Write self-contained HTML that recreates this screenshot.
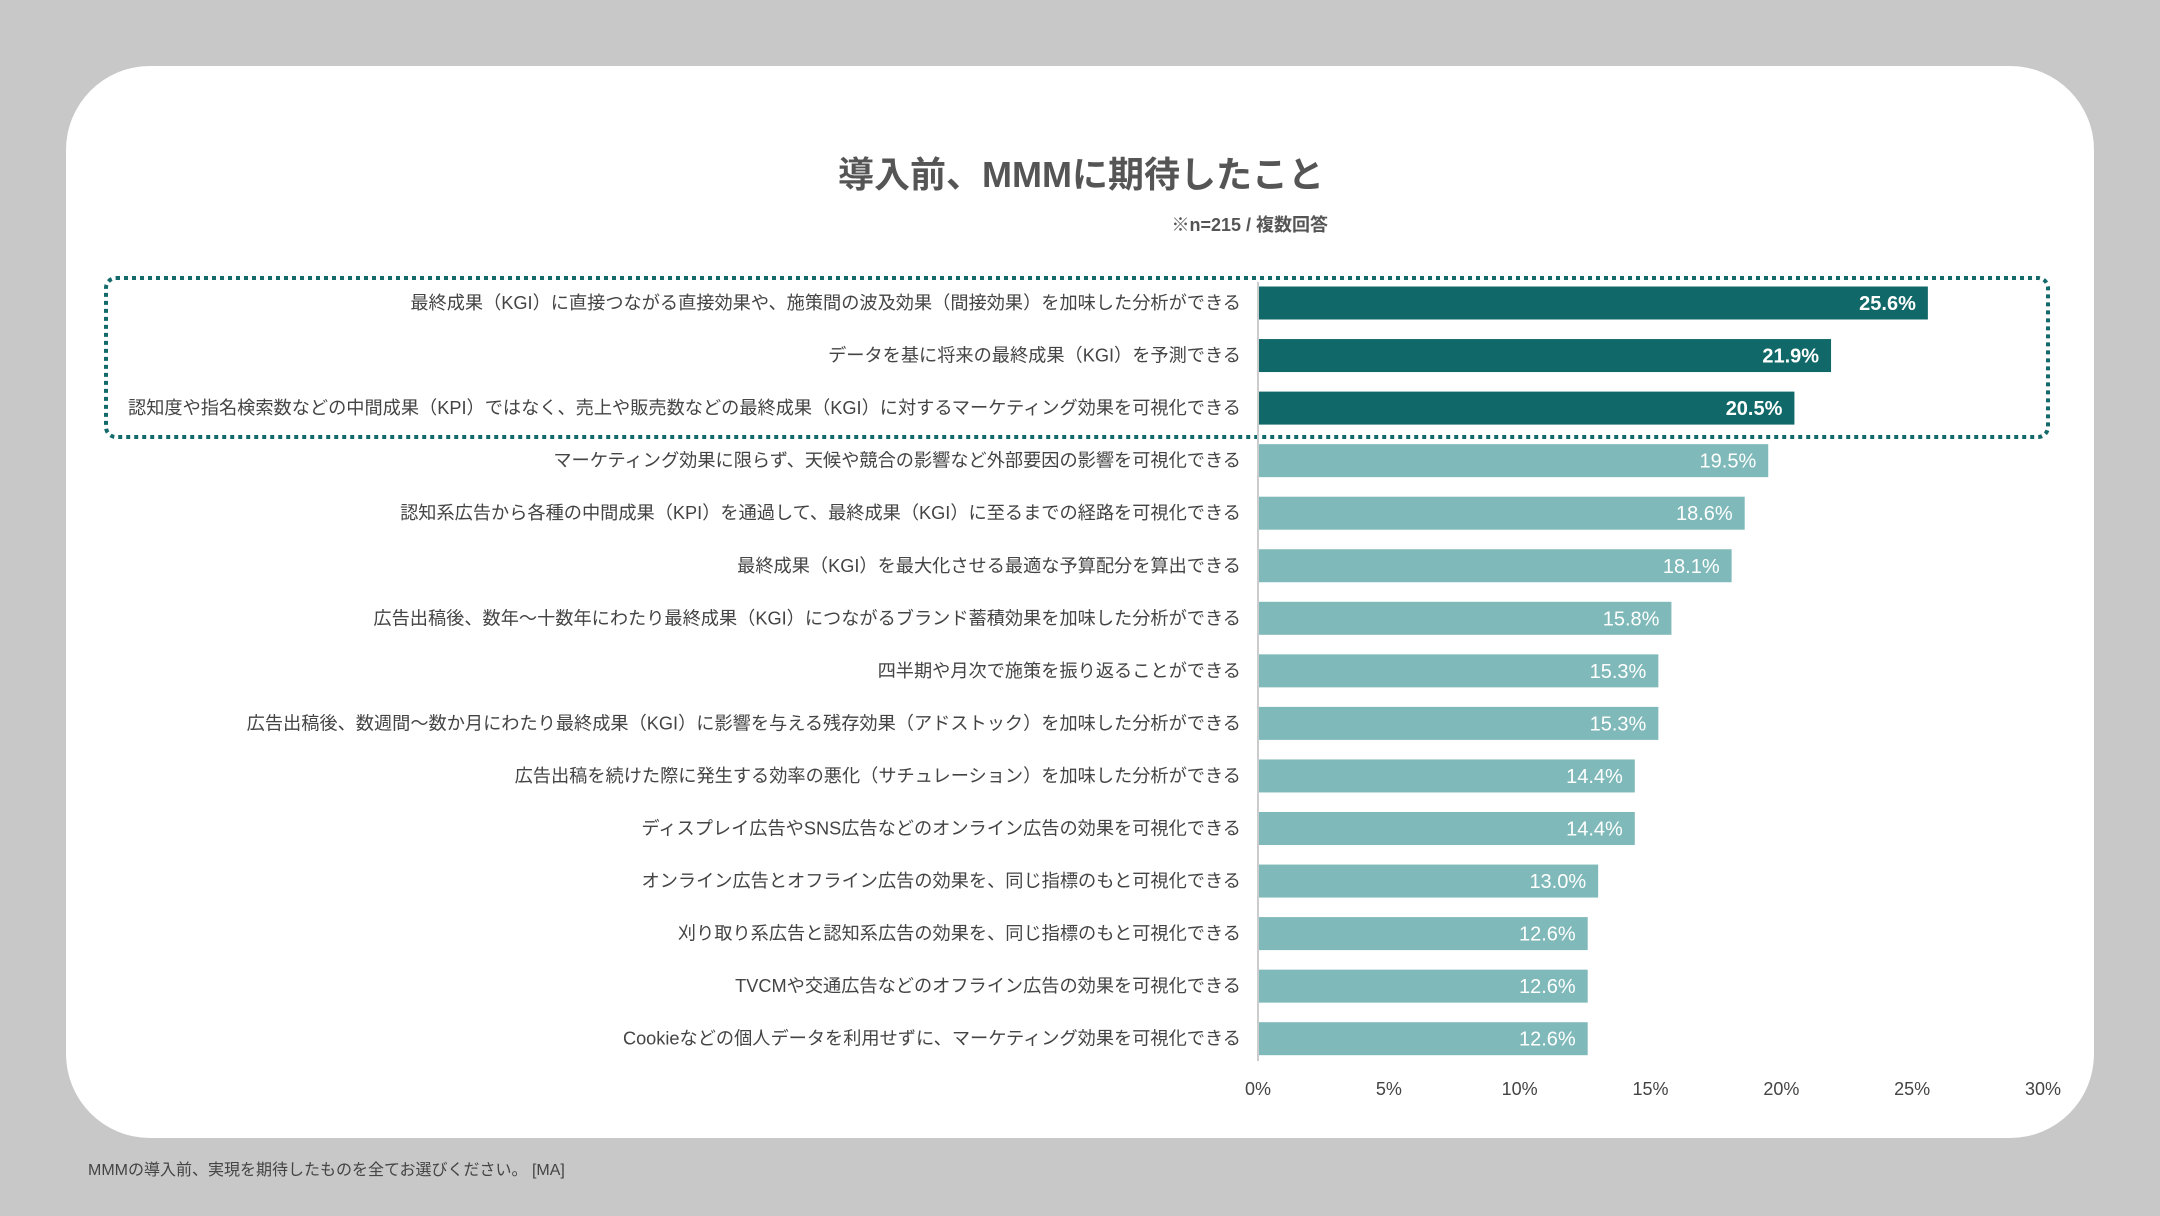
<!DOCTYPE html>
<html><head><meta charset="utf-8"><style>
body{margin:0;width:2160px;height:1216px;background:#c8c8c8;font-family:"Liberation Sans","Noto Sans CJK JP",sans-serif;position:relative;overflow:hidden}
#card{position:absolute;left:66px;top:66px;width:2028px;height:1072px;background:#fff;border-radius:84px}
#title{position:absolute;left:0;width:2162px;top:146px;text-align:center;font-size:36px;font-weight:bold;color:#555}
#sub{position:absolute;right:832px;top:211px;font-size:18px;font-weight:bold;color:#555}
#foot{position:absolute;left:88px;top:1156px;font-size:16px;color:#444}
svg{position:absolute;left:0;top:0}
</style></head><body>
<div id="card"></div>
<div id="title">導入前、MMMに期待したこと</div>
<div id="sub">※n=215 / 複数回答</div>
<div id="foot">MMMの導入前、実現を期待したものを全てお選びください。 [MA]</div>
<svg id="chart" width="2160" height="1216"></svg>
<script>
const categories=["最終成果（KGI）に直接つながる直接効果や、施策間の波及効果（間接効果）を加味した分析ができる","データを基に将来の最終成果（KGI）を予測できる","認知度や指名検索数などの中間成果（KPI）ではなく、売上や販売数などの最終成果（KGI）に対するマーケティング効果を可視化できる","マーケティング効果に限らず、天候や競合の影響など外部要因の影響を可視化できる","認知系広告から各種の中間成果（KPI）を通過して、最終成果（KGI）に至るまでの経路を可視化できる","最終成果（KGI）を最大化させる最適な予算配分を算出できる","広告出稿後、数年〜十数年にわたり最終成果（KGI）につながるブランド蓄積効果を加味した分析ができる","四半期や月次で施策を振り返ることができる","広告出稿後、数週間〜数か月にわたり最終成果（KGI）に影響を与える残存効果（アドストック）を加味した分析ができる","広告出稿を続けた際に発生する効率の悪化（サチュレーション）を加味した分析ができる","ディスプレイ広告やSNS広告などのオンライン広告の効果を可視化できる","オンライン広告とオフライン広告の効果を、同じ指標のもと可視化できる","刈り取り系広告と認知系広告の効果を、同じ指標のもと可視化できる","TVCMや交通広告などのオフライン広告の効果を可視化できる","Cookieなどの個人データを利用せずに、マーケティング効果を可視化できる"];
const values=[25.6,21.9,20.5,19.5,18.6,18.1,15.8,15.3,15.3,14.4,14.4,13.0,12.6,12.6,12.6];
const ticks=[0,5,10,15,20,25,30];
const highlighted=3;
const svg=document.getElementById('chart');const NS='http://www.w3.org/2000/svg';
const x0=1258,x1=2043,xmax=30,y0=303,step=52.55,bh=33;
const X=v=>x0+(x1-x0)*v/xmax;const Y=i=>y0+i*step;
function mk(t,a){const e=document.createElementNS(NS,t);for(const k in a)e.setAttribute(k,a[k]);svg.appendChild(e);return e;}
const box=mk('rect',{x:106,y:278,width:1942,height:159,rx:10,fill:'none',stroke:'#14696a','stroke-width':4,'stroke-dasharray':'4 4'});


const ax=mk('line',{x1:x0,x2:x0,y1:282,y2:1061,stroke:'#ccc','stroke-width':2});


values.forEach((v,i)=>{
 const dark=i<highlighted;
 const r=mk('rect',{x:x0+1,y:Y(i)-bh/2,width:X(v)-x0-1,height:bh,fill:dark?'#116868':'#80b9b9'});
 
 
 const t=mk('text',{x:X(v)-12,y:Y(i)+7,'text-anchor':'end','font-size':20,fill:'#fff','font-weight':dark?'bold':'normal'});
 t.textContent=v.toFixed(1)+'%';
 
 
 const l=mk('text',{x:1241,y:Y(i)+6,'text-anchor':'end','font-size':18.2,fill:'#444'});
 l.textContent=categories[i];
 
 
});
ticks.forEach(t=>{
 const e=mk('text',{x:X(t),y:1095,'text-anchor':'middle','font-size':18,fill:'#444'});
 e.textContent=t+'%';
 
 
});
</script>
</body></html>
